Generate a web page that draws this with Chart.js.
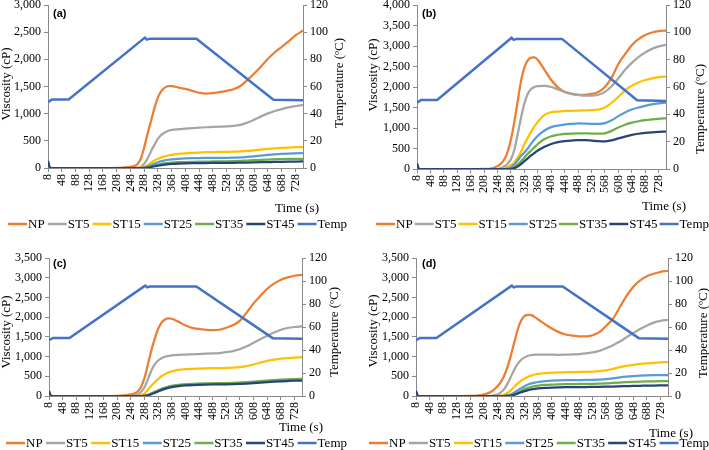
<!DOCTYPE html>
<html><head><meta charset="utf-8">
<script src="https://cdn.jsdelivr.net/npm/chart.js@4.4.1/dist/chart.umd.min.js"></script>
<style>
html,body{margin:0;padding:0;background:#fff;width:709px;height:450px;overflow:hidden;}
canvas{position:absolute;left:0;top:0;}
</style></head><body>
<canvas id="ca" width="709" height="450"></canvas>
<canvas id="cb" width="709" height="450"></canvas>
<canvas id="cc" width="709" height="450"></canvas>
<canvas id="cd" width="709" height="450"></canvas>
<script>
// ---------------- DATA ----------------
const time = [8,14,28,48,68,88,108,128,148,168,188,208,228,248,258,268,278,288,298,308,318,328,338,348,358,368,388,408,428,448,468,488,508,528,548,568,588,608,628,648,668,688,708,728,750];
const tempTime = [8,20,68,290,296,304,440,664,750];
const tempValues = [48.5,50.5,50.5,96,94.5,95.2,95.2,50.3,49.8];
const xTickValues = [8,48,88,128,168,208,248,288,328,368,408,448,488,528,568,608,648,688,728];
const seriesNames = ['NP','ST5','ST15','ST25','ST35','ST45'];
const tempName = 'Temp';

// panel (a)
const npA   = [110,0,0,0,0,0,0,0,0,0,0,2,8, 20,35,70,170,380,640,870,1110,1300,1420,1480,1505,1505, 1480,1455,1420,1385,1370,1378,1395,1420,1450,1510,1620,1740,1870,2010,2130,2230,2330,2440,2530];
const st5A  = [100,0,0,0,0,0,0,0,0,0,0,0,0, 0,0,5,20,80,180,310,430,540,610,655,685,700, 715,725,735,742,750,755,760,765,775,795,835,890,950,1005,1050,1085,1115,1140,1160];
const st15A = [100,0,0,0,0,0,0,0,0,0,0,0,0, 0,0,0,5,20,50,100,140,170,195,215,230,242, 258,270,278,285,290,293,296,298,300,305,313,325,340,352,362,370,377,382,385];
const st25A = [100,0,0,0,0,0,0,0,0,0,0,0,0, 0,0,0,0,5,25,55,80,105,125,140,152,160, 170,176,180,183,185,186,187,188,190,195,205,215,228,240,250,258,265,270,275];
const st35A = [100,0,0,0,0,0,0,0,0,0,0,0,0, 0,0,0,0,3,12,30,48,62,75,85,93,99, 106,110,113,116,118,120,122,124,127,131,137,143,150,156,160,164,167,169,170];
const st45A = [130,0,0,0,0,0,0,0,0,0,0,0,0, 0,0,0,0,0,5,18,32,45,55,63,70,75, 82,86,89,91,92,93,94,95,96,98,100,103,106,109,112,114,116,118,120];

// panel (b)
const npB   = [120,0,0,0,0,0,0,0,0,0,0,3,10, 70,130,230,420,720,1150,1650,2150,2480,2650,2715,2720,2660, 2420,2170,1990,1880,1830,1810,1810,1830,1880,2000,2230,2560,2800,3020,3170,3270,3330,3365,3375];
const st5B  = [110,0,0,0,0,0,0,0,0,0,0,0,0, 0,20,60,130,240,470,850,1250,1600,1830,1950,2000,2020, 2030,2000,1940,1880,1840,1810,1790,1790,1810,1880,2020,2210,2420,2590,2730,2840,2930,2990,3030];
const st15B = [100,0,0,0,0,0,0,0,0,0,0,0,0, 0,0,15,50,100,160,280,420,610,760,910,1040,1150, 1320,1385,1400,1415,1420,1425,1430,1435,1450,1500,1610,1760,1920,2030,2110,2170,2210,2240,2255];
const st25B = [100,0,0,0,0,0,0,0,0,0,0,0,0, 0,0,0,10,40,110,210,320,400,500,620,720,810, 940,1020,1060,1085,1100,1110,1108,1100,1100,1120,1190,1290,1380,1450,1500,1540,1575,1600,1620];
const st35B = [100,0,0,0,0,0,0,0,0,0,0,0,0, 0,0,0,0,10,40,110,190,280,370,450,530,610, 730,800,835,855,865,870,870,865,860,870,930,1010,1080,1130,1165,1190,1210,1225,1235];
const st45B = [140,0,0,0,0,0,0,0,0,0,0,0,0, 0,0,0,0,5,20,60,120,190,260,330,390,450, 540,610,655,680,695,705,705,695,680,675,700,745,790,830,860,880,895,905,910];

// panel (c)
const npC   = [100,0,0,0,0,0,0,0,0,0,0,5,15, 40,65,110,230,460,800,1150,1450,1700,1860,1940,1970,1960, 1880,1790,1730,1700,1680,1670,1680,1730,1800,1910,2120,2350,2540,2720,2850,2950,3010,3050,3070];
const st5C  = [100,0,0,0,0,0,0,0,0,0,0,0,0, 0,10,30,100,220,420,640,800,900,960,995,1015,1030, 1045,1052,1058,1065,1072,1080,1090,1110,1140,1190,1260,1350,1440,1530,1610,1680,1725,1750,1765];
const st15C = [100,0,0,0,0,0,0,0,0,0,0,0,0, 0,0,0,15,60,150,260,350,430,500,555,595,625, 660,680,690,697,702,706,710,715,722,735,760,800,845,890,920,945,962,975,983];
const st25C = [100,0,0,0,0,0,0,0,0,0,0,0,0, 0,0,0,0,5,25,60,100,140,175,205,230,250, 275,290,298,305,310,313,316,320,325,332,342,355,368,382,395,405,412,418,422];
const st35C = [100,0,0,0,0,0,0,0,0,0,0,0,0, 0,0,0,0,5,25,60,105,145,180,210,235,255, 282,298,307,313,318,322,325,328,333,340,350,362,377,392,405,415,423,430,435];
const st45C = [130,0,0,0,0,0,0,0,0,0,0,0,0, 0,0,0,0,3,15,45,80,115,150,180,205,225, 250,267,277,283,288,292,295,298,302,308,315,325,337,350,362,372,380,387,392];

// panel (d)
const npD   = [110,0,0,0,0,0,0,0,0,3,10,40,100, 250,360,520,750,1050,1380,1700,1920,2030,2060,2050,2000,1940, 1820,1710,1620,1560,1530,1515,1510,1540,1620,1780,1960,2250,2540,2770,2930,3040,3100,3150,3175];
const st5D  = [100,0,0,0,0,0,0,0,0,0,0,0,5, 40,90,180,320,500,680,820,920,980,1020,1040,1050,1052, 1050,1047,1046,1048,1055,1065,1080,1105,1145,1210,1290,1380,1490,1600,1700,1790,1860,1905,1930];
const st15D = [100,0,0,0,0,0,0,0,0,0,0,0,0, 0,10,40,85,150,240,320,390,445,490,520,545,560, 578,590,598,603,607,610,614,620,632,652,690,730,765,792,812,828,842,852,858];
const st25D = [100,0,0,0,0,0,0,0,0,0,0,0,0, 0,0,5,20,45,90,145,200,250,290,320,340,355, 375,388,395,400,403,405,407,410,415,425,445,470,490,505,515,522,527,530,532];
const st35D = [100,0,0,0,0,0,0,0,0,0,0,0,0, 0,0,0,5,20,50,90,135,175,205,230,248,262, 280,290,296,300,303,305,307,310,314,320,330,340,350,358,365,370,374,377,380];
const st45D = [130,0,0,0,0,0,0,0,0,0,0,0,0, 0,0,0,3,12,35,65,95,125,150,168,182,193, 207,215,220,223,225,226,228,230,232,236,240,245,250,255,259,263,266,268,270];

// ---------------- STYLE ----------------
const seriesColors = ['#ED7D31','#A5A5A5','#FFC000','#5B9BD5','#70AD47','#264478'];
const tempColor = '#4472C4';
const axisColor = '#8a8a8a';
const serif = '"Liberation Serif", "Times New Roman", serif';
const sans = '"Liberation Sans", Arial, sans-serif';
const yTitle = 'Viscosity (cP)';
const y2Title = 'Temperature (ºC)';
const xTitle = 'Time (s)';

const panels = [
  {id:'ca', letter:'a', vals:[npA,st5A,st15A,st25A,st35A,st45A], ymax:3000, l:48, t:5, r:303, b:168,
   letterXY:[53,14], yT:[7,84], y2T:[340,83], xT:[297,209], leg:[8,224,339]},
  {id:'cb', letter:'b', vals:[npB,st5B,st15B,st25B,st35B,st45B], ymax:4000, l:417, t:5, r:666, b:169,
   letterXY:[422,14], yT:[374,75], y2T:[701,109], xT:[664,207], leg:[376,224,333]},
  {id:'cc', letter:'c', vals:[npC,st5C,st15C,st25C,st35C,st45C], ymax:3500, l:49, t:258, r:302, b:396,
   letterXY:[53,264], yT:[7,332], y2T:[335,332], xT:[301,428], leg:[6,443,341]},
  {id:'cd', letter:'d', vals:[npD,st5D,st15D,st25D,st35D,st45D], ymax:3500, l:416, t:258, r:668, b:396,
   letterXY:[422,264], yT:[374,331], y2T:[704,333], xT:[671,434], leg:[369,443,340]}
];

function textPlugin(p) {
  return {
    id: 'txt_' + p.letter,
    afterDraw(chart) {
      const ctx = chart.ctx;
      ctx.save();
      ctx.fillStyle = '#000';
      ctx.textBaseline = 'middle';
      ctx.font = 'bold 11px ' + sans;
      ctx.textAlign = 'left';
      ctx.fillText('(' + p.letter + ')', p.letterXY[0], p.letterXY[1]);
      ctx.font = '13px ' + serif;
      ctx.textAlign = 'center';
      ctx.save(); ctx.translate(p.yT[0], p.yT[1]); ctx.rotate(-Math.PI/2); ctx.fillText(yTitle, 0, 0); ctx.restore();
      ctx.save(); ctx.translate(p.y2T[0], p.y2T[1]); ctx.rotate(-Math.PI/2); ctx.fillText(y2Title, 0, 0); ctx.restore();
      ctx.fillText(xTitle, p.xT[0], p.xT[1]);
      const names = seriesNames.concat([tempName]);
      const cols = seriesColors.concat([tempColor]);
      const lineLen = 19;
      ctx.font = '13px ' + serif;
      const widths = names.map(n => ctx.measureText(n).width);
      const sumW = widths.reduce((a, b) => a + b, 0);
      const gap = Math.max(2, (p.leg[2] - names.length * (lineLen + 1) - sumW) / (names.length - 1));
      let x = p.leg[0];
      const y = p.leg[1];
      ctx.textAlign = 'left';
      names.forEach((n, i) => {
        ctx.strokeStyle = cols[i];
        ctx.lineWidth = 2.5;
        ctx.beginPath(); ctx.moveTo(x, y); ctx.lineTo(x + lineLen, y); ctx.stroke();
        x += lineLen + 1;
        ctx.fillStyle = '#000';
        ctx.fillText(n, x, y + 0.5);
        x += widths[i] + gap;
      });
      ctx.restore();
    }
  };
}

Chart.defaults.font.family = serif;

panels.forEach(p => {
  const datasets = p.vals.map((vals, i) => ({
    label: seriesNames[i],
    data: time.map((t, k) => ({x: t, y: vals[k]})),
    borderColor: seriesColors[i],
    backgroundColor: seriesColors[i],
    borderWidth: 2.25,
    pointRadius: 0,
    fill: false,
    cubicInterpolationMode: 'monotone',
    yAxisID: 'y',
    order: 6 - i
  }));
  datasets.push({
    label: tempName,
    data: tempTime.map((t, k) => ({x: t, y: tempValues[k]})),
    borderColor: tempColor,
    backgroundColor: tempColor,
    borderWidth: 2.5,
    pointRadius: 0,
    fill: false,
    tension: 0,
    yAxisID: 'y2',
    order: 0
  });
  const tickFont = {family: serif, size: 12};
  const grid = {drawOnChartArea: false, drawTicks: true, tickLength: 4, color: axisColor, lineWidth: 1};
  const border = {color: axisColor, width: 1};
  new Chart(document.getElementById(p.id), {
    type: 'line',
    data: {datasets},
    options: {
      responsive: false,
      animation: false,
      devicePixelRatio: 1,
      layout: {autoPadding: false, padding: {left: 0, top: p.t, right: 709 - p.r - 40, bottom: 450 - p.b - 30}},
      plugins: {legend: {display: false}, tooltip: {enabled: false}},
      scales: {
        x: {
          type: 'linear', min: 8, max: 750,
          afterBuildTicks: s => { s.ticks = xTickValues.map(v => ({value: v})); },
          ticks: {autoSkip: false, minRotation: 90, maxRotation: 90, padding: 2, color: '#000', font: tickFont,
                  callback: v => String(v)},
          grid, border,
          afterFit: s => { s.height = 30; s.paddingLeft = 0; s.paddingRight = 0; }
        },
        y: {
          position: 'left', min: 0, max: p.ymax,
          ticks: {stepSize: 500, padding: 3, color: '#000', font: tickFont,
                  callback: v => Number(v).toLocaleString('en-US')},
          grid, border,
          afterFit: s => { s.width = p.l; s.paddingTop = 0; s.paddingBottom = 0; }
        },
        y2: {
          position: 'right', min: 0, max: 120,
          ticks: {stepSize: 20, padding: 3, color: '#000', font: tickFont},
          grid, border,
          afterFit: s => { s.width = 40; s.paddingTop = 0; s.paddingBottom = 0; }
        }
      }
    },
    plugins: [textPlugin(p)]
  });
});
</script>
</body></html>
